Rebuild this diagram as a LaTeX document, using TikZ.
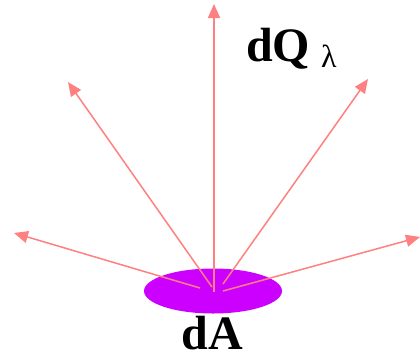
\documentclass[tikz,border=0pt]{standalone}
\usepackage{fontspec}
\setmainfont{Liberation Serif}
\usetikzlibrary{arrows.meta,shapes.geometric}
\definecolor{raycol}{RGB}{255,128,128}
\definecolor{diskcol}{RGB}{204,0,255}
\tikzset{
    ray/.style={draw=raycol, line width=1.5pt, -{Triangle[length=14pt,width=12pt]}},
    bigtext/.style={inner sep=0pt, font=\bfseries\fontsize{48}{48}\selectfont}
}
\begin{document}
\begin{tikzpicture}[x=1pt, y=-1pt]
    \useasboundingbox (0,0) rectangle (420,354);
    % the emitting surface
    \node[ellipse, fill=diskcol, inner sep=0pt, minimum width=138pt, minimum height=45pt] (disk) at (213,291) {};
    % emitted rays
    \foreach \sx/\sy/\ex/\ey [count=\i] in {200/288/14/233, 212/287/68/82, 214/292/214/4, 223/284/368/79, 223/291/420/237} {
        \coordinate (s\i) at (\sx,\sy);
        \coordinate (e\i) at (\ex,\ey);
        \draw[ray] (s\i) -- (e\i);
    }
    \node[bigtext, anchor=base] (dA) at (212,349) {dA};
    \node[bigtext, anchor=base west] (dQ) at (246,61) {dQ};
    \node[inner sep=0pt, anchor=base west, font=\fontsize{32}{32}\selectfont] (lam) at (321,67) {λ};
\end{tikzpicture}
\end{document}
